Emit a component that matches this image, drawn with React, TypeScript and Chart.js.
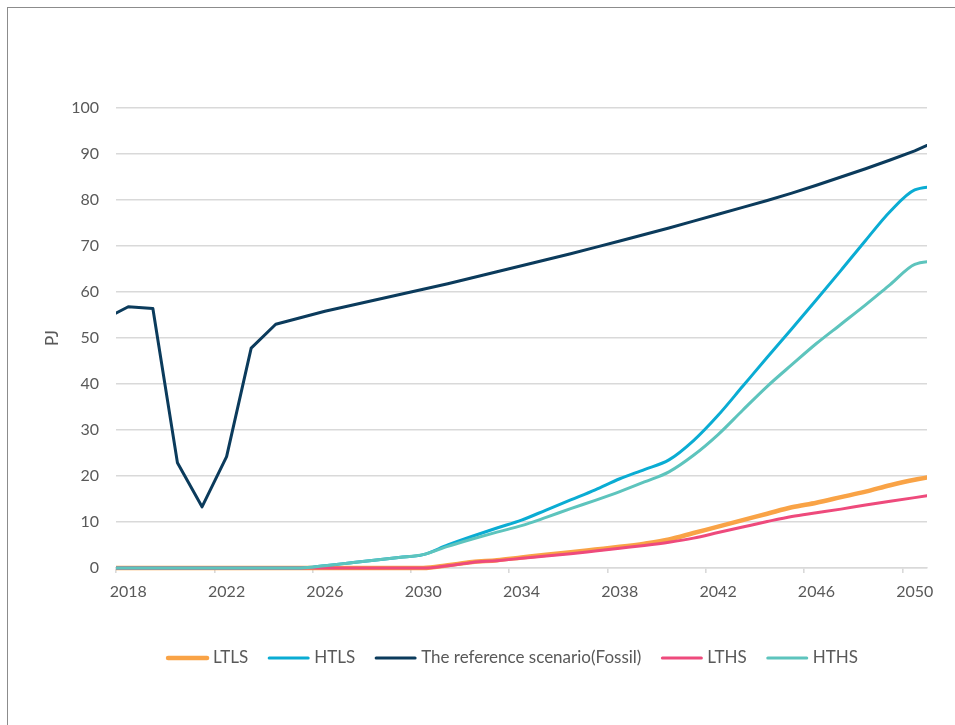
import React, { useEffect, useRef } from "react";
import { Chart, registerables } from "chart.js";

Chart.register(...registerables);

// Years on the x axis (2017 and 2051 only feed the line ends at the plot edges)
const years = [
  2017, 2018, 2019, 2020, 2021, 2022, 2023, 2024, 2025, 2026, 2027, 2028,
  2029, 2030, 2031, 2032, 2033, 2034, 2035, 2036, 2037, 2038, 2039, 2040,
  2041, 2042, 2043, 2044, 2045, 2046, 2047, 2048, 2049, 2050, 2051,
];

// Energy use in PJ per scenario
const ltls = [
  0, 0, 0, 0, 0, 0, 0, 0, 0, 0, 0, 0, 0, 0, 0.6, 1.3, 1.7, 2.3, 2.9, 3.4, 4.0,
  4.6, 5.3, 6.2, 7.6, 9.0, 10.4, 11.8, 13.2, 14.2, 15.4, 16.6, 18.0, 19.2, 20.1,
];
const htls = [
  0, 0, 0, 0, 0, 0, 0, 0, 0, 0.5, 1.1, 1.7, 2.3, 2.9, 5.0, 6.9, 8.7, 10.4, 12.6,
  14.8, 17.0, 19.4, 21.4, 23.5, 27.7, 33.2, 39.5, 45.8, 52.0, 58.3, 64.7, 71.2,
  77.5, 82.2, 83.0,
];
const fossil = [
  54.0, 56.8, 56.4, 22.9, 13.3, 24.2, 47.8, 53.0, 54.4, 55.8, 57.0, 58.2, 59.4,
  60.6, 61.8, 63.1, 64.4, 65.7, 67.0, 68.3, 69.7, 71.1, 72.5, 73.9, 75.4, 76.9,
  78.4, 79.9, 81.5, 83.2, 85.0, 86.8, 88.7, 90.7, 93.0,
];
const lths = [
  0, 0, 0, 0, 0, 0, 0, 0, 0, 0, 0, 0, 0, 0, 0.5, 1.2, 1.6, 2.1, 2.6, 3.1, 3.7,
  4.3, 4.9, 5.6, 6.5, 7.7, 8.9, 10.1, 11.2, 12.0, 12.8, 13.7, 14.5, 15.3, 16.1,
];
const hths = [
  0, 0, 0, 0, 0, 0, 0, 0, 0, 0.5, 1.1, 1.7, 2.3, 2.9, 4.7, 6.3, 7.8, 9.2, 11.0,
  12.9, 14.7, 16.6, 18.7, 20.9, 24.5, 29.0, 34.3, 39.5, 44.2, 48.8, 53.0, 57.2,
  61.6, 66.0, 66.8,
];

const seriesNames = [
  "LTLS",
  "HTLS",
  "The reference scenario(Fossil)",
  "LTHS",
  "HTHS",
];

// Category boundaries where the x-axis tick marks sit, labelled with the next year
const xTickBoundaries = [2017.5, 2021.5, 2025.5, 2029.5, 2033.5, 2037.5, 2041.5, 2045.5, 2049.5];
const yTicks = [0, 10, 20, 30, 40, 50, 60, 70, 80, 90, 100];

const FONT = "Lato, 'Open Sans', sans-serif";
const TEXT = "#595959";
const GRID = "#d9d9d9";

const frameAndLegend = {
  id: "frameAndLegend",
  beforeDraw(chart: any) {
    const { ctx, width, height } = chart;
    ctx.save();
    ctx.fillStyle = "#ffffff";
    ctx.fillRect(0, 0, width, height);
    ctx.strokeStyle = "#8c8c8c";
    ctx.lineWidth = 1;
    ctx.strokeRect(7.5, 7.5, width + 20, height + 20);
    ctx.restore();
  },
  afterDraw(chart: any) {
    const { ctx } = chart;
    ctx.save();
    ctx.font = `17px ${FONT}`;
    ctx.textBaseline = "middle";
    ctx.textAlign = "left";
    const lineLen = 43;
    const gap = 4;
    const itemGap = 19;
    const items = chart.data.datasets.map((ds: any) => ({
      label: ds.label as string,
      color: ds.borderColor as string,
      width: ds.borderWidth as number,
      textW: ctx.measureText(ds.label).width,
    }));
    const total =
      items.reduce((s: number, it: any) => s + lineLen + gap + it.textW, 0) +
      itemGap * (items.length - 1);
    let x = 512 - total / 2;
    const y = 658;
    for (const it of items) {
      ctx.strokeStyle = it.color;
      ctx.lineWidth = it.width;
      ctx.lineCap = "round";
      ctx.beginPath();
      ctx.moveTo(x + 2, y);
      ctx.lineTo(x + lineLen - 2, y);
      ctx.stroke();
      ctx.fillStyle = TEXT;
      ctx.fillText(it.label, x + lineLen + gap, y);
      x += lineLen + gap + it.textW + itemGap;
    }
    ctx.restore();
  },
};

export default function App() {
  const canvasRef = useRef<HTMLCanvasElement | null>(null);

  useEffect(() => {
    const canvas = canvasRef.current;
    if (!canvas) return;

    const colors = ["#f9a346", "#0aacd3", "#0b3b5c", "#ee4a7c", "#5dc4bd"];
    const widths = [4.5, 3, 3, 3, 3];
    const values = [ltls, htls, fossil, lths, hths];

    const datasets = values.map((vals, i) => ({
      label: seriesNames[i],
      data: years.map((yr, j) => ({ x: yr, y: vals[j] })),
      borderColor: colors[i],
      backgroundColor: colors[i],
      borderWidth: widths[i],
      pointRadius: 0,
      pointHoverRadius: 0,
      fill: false,
      tension: i === 2 ? 0 : 0.4,
      cubicInterpolationMode: i === 2 ? "default" : "monotone",
      borderCapStyle: "round",
      borderJoinStyle: "round",
      clip: { left: 0, right: 0, top: 6, bottom: 6 },
      order: values.length - i,
    }));

    const chart = new Chart(canvas, {
      type: "line",
      data: { datasets } as any,
      plugins: [frameAndLegend],
      options: {
        animation: false,
        responsive: false,
        events: [],
        layout: { padding: { left: 0, top: 108, right: 28, bottom: 117 } },
        plugins: {
          legend: { display: false },
          tooltip: { enabled: false },
        },
        scales: {
          x: {
            type: "linear",
            min: 2017.5,
            max: 2050.5,
            afterBuildTicks: (scale: any) => {
              scale.ticks = xTickBoundaries.map((v) => ({ value: v }));
            },
            afterFit: (scale: any) => {
              scale.height = 40;
            },
            grid: {
              drawOnChartArea: false,
              drawTicks: true,
              tickLength: 5,
              color: GRID,
              lineWidth: 1.6,
            },
            border: { display: true, color: GRID, width: 1.6 },
            ticks: {
              autoSkip: false,
              maxRotation: 0,
              padding: 9,
              labelOffset: 12.3,
              color: TEXT,
              font: { family: FONT, size: 16 },
              callback: (v: any) => String(Math.round(Number(v) + 0.5)),
            },
          },
          y: {
            min: 0,
            max: 100,
            afterBuildTicks: (scale: any) => {
              scale.ticks = yTicks.map((v) => ({ value: v }));
            },
            afterFit: (scale: any) => {
              scale.width = 116;
            },
            grid: {
              color: GRID,
              lineWidth: 1.6,
              drawTicks: false,
            },
            border: { display: false },
            ticks: {
              padding: 17,
              color: TEXT,
              font: { family: FONT, size: 16 },
            },
            title: {
              display: true,
              text: "PJ",
              color: TEXT,
              font: { family: FONT, size: 17 },
              padding: { top: 42, bottom: 0 },
            },
          },
        },
      } as any,
    });

    return () => chart.destroy();
  }, []);

  return (
    <div style={{ position: "fixed", left: 0, top: 0, width: 955, height: 725 }}>
      <canvas ref={canvasRef} width={955} height={725} style={{ display: "block" }} />
    </div>
  );
}
